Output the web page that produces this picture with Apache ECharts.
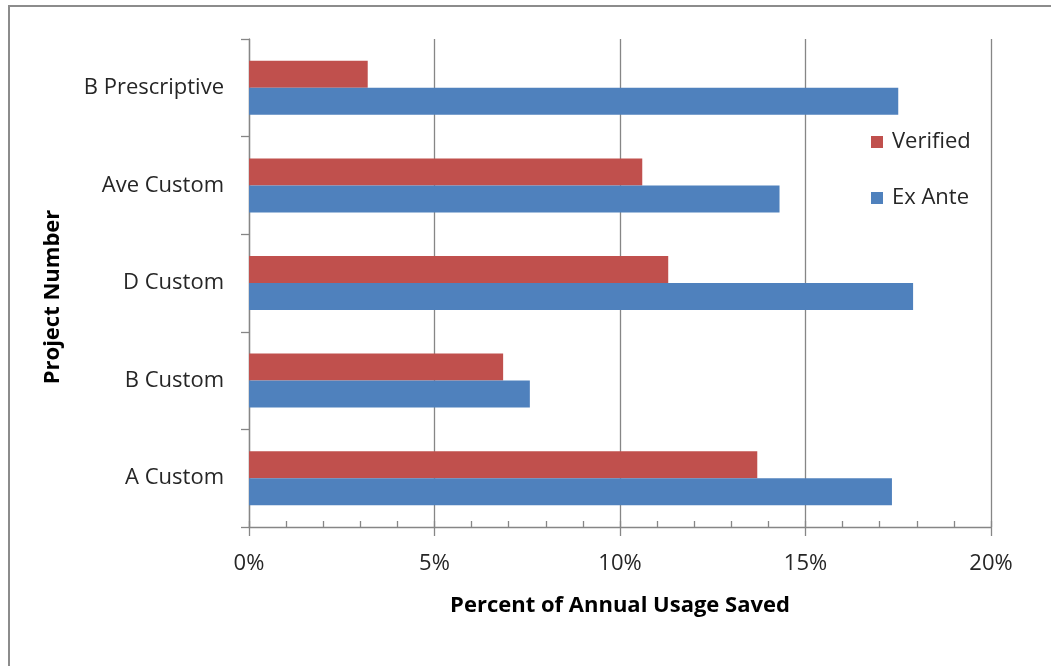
<!DOCTYPE html>
<html>
<head>
<meta charset="utf-8">
<script src="https://cdn.jsdelivr.net/npm/echarts@6/dist/echarts.min.js"></script>
<style>
html,body{margin:0;padding:0;background:#fff;}
#frame{position:absolute;left:8px;top:5px;width:1100px;height:700px;border:2px solid #8c8c8c;box-sizing:border-box;}
#chart{position:absolute;left:0;top:0;width:1051px;height:666px;}
</style>
</head>
<body>
<div id="frame"></div>
<div id="chart"></div>
<script>
const categories = ['A Custom', 'B Custom', 'D Custom', 'Ave Custom', 'B Prescriptive'];
const verified = [13.7, 6.85, 11.3, 10.6, 3.2];
const exAnte = [17.33, 7.57, 17.9, 14.3, 17.5];
const xTicks = [0, 5, 10, 15, 20];

const font = '"Open Sans", sans-serif';
const chart = echarts.init(document.getElementById('chart'));
chart.setOption({
  animation: false,
  backgroundColor: 'transparent',
  grid: {left: 249, right: 60, top: 39, bottom: 139, containLabel: false},
  legend: {
    orient: 'vertical', left: 866, top: 126,
    data: ['Verified', 'Ex Ante'],
    icon: 'rect', itemWidth: 12, itemHeight: 12, itemGap: 34,
    textStyle: {fontFamily: font, fontSize: 22, color: '#262626', padding: [0, 0, 0, 4]}
  },
  xAxis: [{
    type: 'value', min: xTicks[0], max: xTicks[xTicks.length - 1], interval: 5,
    name: 'Percent of Annual Usage Saved', nameLocation: 'middle', nameGap: 68,
    nameTextStyle: {fontFamily: font, fontSize: 22, fontWeight: 'bold', color: '#000'},
    axisLine: {show: true, lineStyle: {color: '#868686', width: 1.3}},
    axisTick: {show: true, length: 9, lineStyle: {color: '#868686', width: 1.3}},
    axisLabel: {margin: 26, fontFamily: font, fontSize: 22, color: '#262626', formatter: v => v + '%'},
    splitLine: {show: true, lineStyle: {color: '#868686', width: 1.3}}
  }, {
    type: 'value', min: 0, max: 20, interval: 1, position: 'bottom',
    axisLine: {show: false},
    axisTick: {show: true, inside: true, length: 6, lineStyle: {color: '#868686', width: 1.3}},
    axisLabel: {show: false},
    splitLine: {show: false}
  }],
  yAxis: {
    type: 'category', data: categories,
    name: 'Project Number', nameLocation: 'middle', nameGap: 185, nameRotate: 90,
    nameTextStyle: {fontFamily: font, fontSize: 22, fontWeight: 'bold', color: '#000', padding: [0, 28, 0, 0]},
    axisLine: {show: true, lineStyle: {color: '#868686', width: 1.3}},
    axisTick: {show: true, length: 8, alignWithLabel: false, lineStyle: {color: '#868686', width: 1.3}},
    axisLabel: {margin: 25, fontFamily: font, fontSize: 22, color: '#262626', padding: [4, 0, 0, 0]}
  },
  series: [{
    name: 'Verified', type: 'bar', data: verified, barWidth: 27, barGap: '0%',
    itemStyle: {color: '#C0504D'}
  }, {
    name: 'Ex Ante', type: 'bar', data: exAnte, barWidth: 27, barGap: '0%',
    itemStyle: {color: '#4F81BD'}
  }]
});
</script>
</body>
</html>
